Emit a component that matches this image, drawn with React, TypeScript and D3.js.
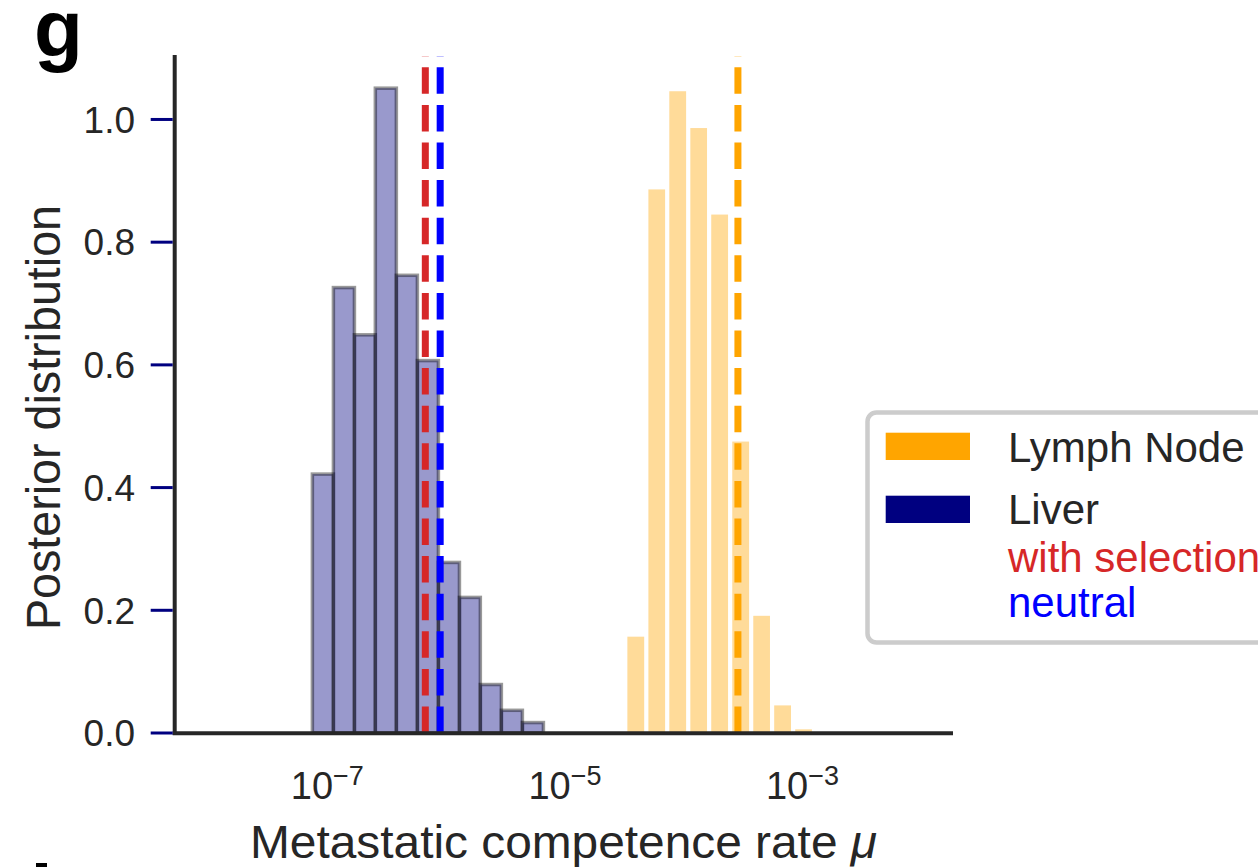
import React from "react";
import * as d3 from "d3";

// ---- data ----
const liverEdgesLog = [-7.126, -6.949, -6.772, -6.596, -6.419, -6.242, -6.065, -5.888, -5.712, -5.535, -5.358, -5.181];
const liverDensity = [0.422, 0.726, 0.649, 1.051, 0.746, 0.607, 0.278, 0.221, 0.079, 0.037, 0.017];
const lymphEdgesLog = [-4.492, -4.315, -4.139, -3.962, -3.786, -3.609, -3.432, -3.256, -3.079, -2.903];
const lymphDensity = [0.157, 0.886, 1.046, 0.986, 0.845, 0.475, 0.191, 0.045, 0.006];
const medianLines = [
  { name: "with selection", value: 6.68e-7, color: "#d62728" },
  { name: "neutral", value: 8.91e-7, color: "#0000ff" },
  { name: "Lymph Node", value: 2.86e-4, color: "#ffa500" },
];
const yTicks = [0, 0.2, 0.4, 0.6, 0.8, 1.0];
const xTickExponents = [-7, -5, -3];
const legendPatches = [
  { label: "Lymph Node", color: "#ffa500" },
  { label: "Liver", color: "#000080" },
];
const legendTexts = [
  { label: "with selection", color: "#d62728" },
  { label: "neutral", color: "#0000ff" },
];

const W = 1258;
const H = 867;
const FONT = "'Liberation Sans', Arial, sans-serif";
const DARK = "#262626";

export default function App() {
  const x = d3
    .scaleLog()
    .domain([Math.pow(10, -8.285), Math.pow(10, -1.733)])
    .range([174.7, 953]);
  const y = d3.scaleLinear().domain([0, 1.1036]).range([733, 55.9]);

  const liverBars = liverDensity.map((v, i) => ({
    x0: Math.pow(10, liverEdgesLog[i]),
    x1: Math.pow(10, liverEdgesLog[i + 1]),
    v,
  }));
  const lymphBars = lymphDensity.map((v, i) => ({
    x0: Math.pow(10, lymphEdgesLog[i]),
    x1: Math.pow(10, lymphEdgesLog[i + 1]),
    v,
  }));

  const [y0, y1] = y.range();
  const gap = 2.1;

  return (
    <svg
      width={W}
      height={H}
      style={{ position: "absolute", left: 0, top: 0, background: "#fff" }}
      fontFamily={FONT}
    >
      <rect x={0} y={0} width={W} height={H} fill="#fff" />
      {/* panel letter */}
      <text x={34} y={56} fontSize={80} fontWeight="bold" fill="#000">g</text>
      <rect x={36} y={863} width={11} height={4} fill="#000" />

      {/* lymph node bars (white edges) */}
      {lymphBars.map((b, i) => (
        <rect
          key={"l" + i}
          x={x(b.x0) + gap}
          y={y(b.v)}
          width={x(b.x1) - x(b.x0) - 2 * gap}
          height={y(0) - y(b.v)}
          fill="#ffa500"
          fillOpacity={0.4}
        />
      ))}
      {/* liver bars */}
      {liverBars.map((b, i) => (
        <rect
          key={"v" + i}
          x={x(b.x0)}
          y={y(b.v)}
          width={x(b.x1) - x(b.x0)}
          height={y(0) - y(b.v)}
          fill="#000080"
          fillOpacity={0.4}
          stroke="#000"
          strokeOpacity={0.4}
          strokeWidth={3.5}
        />
      ))}

      {/* median lines */}
      {medianLines.map((l) => (
        <line
          key={l.name}
          x1={x(l.value)}
          x2={x(l.value)}
          y1={y0}
          y2={y1}
          stroke={l.color}
          strokeWidth={7}
          strokeDasharray="26.5 11.1"
        />
      ))}

      {/* spines */}
      <line x1={174.7} x2={174.7} y1={55} y2={735} stroke={DARK} strokeWidth={4} />
      <line x1={172.7} x2={953} y1={733.3} y2={733.3} stroke={DARK} strokeWidth={4} />

      {/* y ticks */}
      {yTicks.map((t) => (
        <g key={t}>
          <line x1={150.7} x2={172.7} y1={y(t)} y2={y(t)} stroke="#000080" strokeWidth={3} />
          <text x={135} y={y(t) + 13.3} fontSize={37} textAnchor="end" fill={DARK}>
            {t.toFixed(1)}
          </text>
        </g>
      ))}

      {/* x tick labels */}
      {xTickExponents.map((e) => (
        <text key={e} x={x(Math.pow(10, e))} y={799} fontSize={38} textAnchor="middle" fill={DARK}>
          <tspan>10</tspan>
          <tspan dy={-14} fontSize={27}>{"\u2212" + Math.abs(e)}</tspan>
        </text>
      ))}

      {/* axis labels */}
      <text
        x={250}
        y={858}
        fontSize={46}
        fill={DARK}
        textLength={627}
        lengthAdjust="spacingAndGlyphs"
      >
        Metastatic competence rate <tspan fontStyle="italic">μ</tspan>
      </text>
      <text
        transform={`translate(60,630) rotate(-90)`}
        x={0}
        y={0}
        fontSize={48}
        fill={DARK}
        textLength={425}
        lengthAdjust="spacingAndGlyphs"
      >
        Posterior distribution
      </text>

      {/* legend */}
      <rect
        x={867.5}
        y={412.5}
        width={420}
        height={230}
        rx={9}
        fill="#fff"
        fillOpacity={0.8}
        stroke="#cccccc"
        strokeWidth={4.5}
      />
      {legendPatches.map((p, i) => (
        <g key={p.label}>
          <rect x={885.7} y={432.7 + i * 63} width={84.3} height={27.3} fill={p.color} />
          <text x={1008} y={462.3 + i * 62} fontSize={42} fill={DARK}>
            {p.label}
          </text>
        </g>
      ))}
      {legendTexts.map((t, i) => (
        <text key={t.label} x={1008} y={571.7 + i * 45} fontSize={42} fill={t.color}>
          {t.label}
        </text>
      ))}
    </svg>
  );
}
